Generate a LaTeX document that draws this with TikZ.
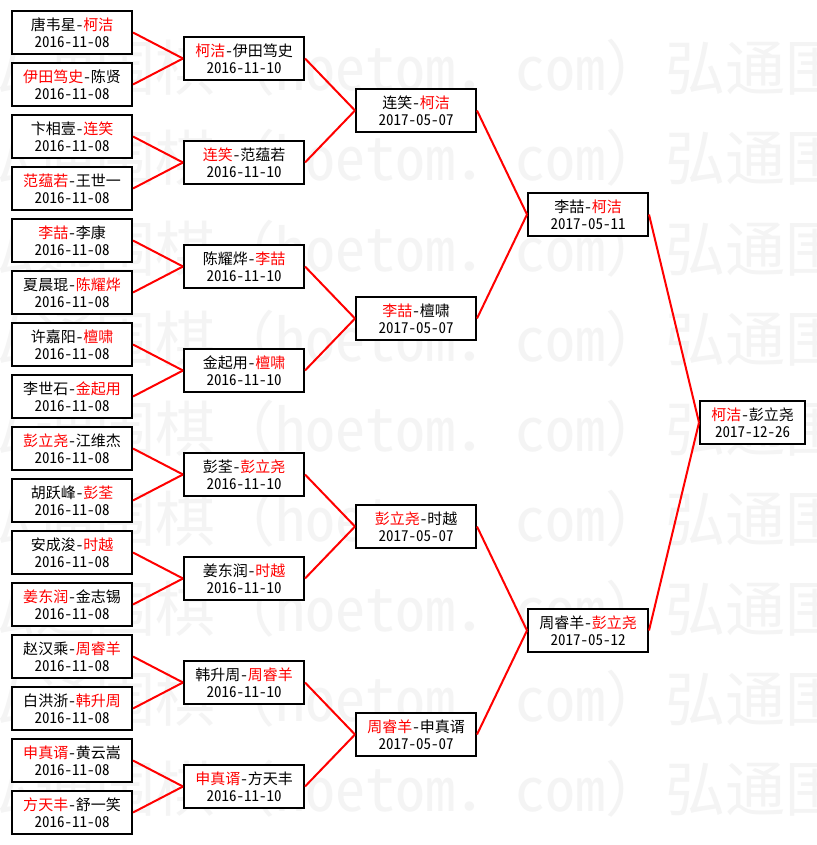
\documentclass[tikz,border=0pt]{standalone}
\usepackage{fontspec}
\setmainfont{Noto Sans CJK SC}[RawFeature={+hwid}]
\newfontfamily\wmfull{Noto Sans CJK SC}
\usetikzlibrary{positioning}
\definecolor{lred}{RGB}{255,0,0}
\definecolor{wmgray}{RGB}{244,244,244}
\newcommand\redname[1]{\textcolor{lred}{#1}}
\newcommand\wmunit{{\wmfull 弘通围棋（}hoetom{\wmfull ．}com{\wmfull ）}}
\newcommand\wmtext{\wmunit\wmunit}
\tikzset{
  mbox/.style={draw=black, line width=2pt, fill=white, minimum width=120pt,
    minimum height=43pt, inner sep=0pt, align=center,
    font=\fontsize{15pt}{17pt}\selectfont},
  finalbox/.style={mbox, minimum width=105pt},
  link/.style={draw=lred, line width=2pt},
  wmark/.style={anchor=base west, inner sep=0pt, text=wmgray,
    font=\fontsize{60pt}{60pt}\selectfont}
}
\begin{document}
\begin{tikzpicture}[x=1pt,y=-1pt]
\useasboundingbox (0,0) rectangle (816,845);
\fill[white] (0,0) rectangle (816,845);
\begin{scope}
\clip (0,0) rectangle (816,845);
\foreach \k in {0,...,8}{
  \node[wmark] (wm\k) at (-25,{91+90*\k}) {\wmtext};
}
\end{scope}
% round 1
\node[mbox] (a1)  at (72,32.5)  {唐韦星-\redname{柯洁}\\2016-11-08};
\node[mbox] (a2)  at (72,84.5)  {\redname{伊田笃史}-陈贤\\2016-11-08};
\node[mbox] (a3)  at (72,136.5) {卞相壹-\redname{连笑}\\2016-11-08};
\node[mbox] (a4)  at (72,188.5) {\redname{范蕴若}-王世一\\2016-11-08};
\node[mbox] (a5)  at (72,240.5) {\redname{李喆}-李康\\2016-11-08};
\node[mbox] (a6)  at (72,292.5) {夏晨琨-\redname{陈耀烨}\\2016-11-08};
\node[mbox] (a7)  at (72,344.5) {许嘉阳-\redname{檀啸}\\2016-11-08};
\node[mbox] (a8)  at (72,396.5) {李世石-\redname{金起用}\\2016-11-08};
\node[mbox] (a9)  at (72,448.5) {\redname{彭立尧}-江维杰\\2016-11-08};
\node[mbox] (a10) at (72,500.5) {胡跃峰-\redname{彭荃}\\2016-11-08};
\node[mbox] (a11) at (72,552.5) {安成浚-\redname{时越}\\2016-11-08};
\node[mbox] (a12) at (72,604.5) {\redname{姜东润}-金志锡\\2016-11-08};
\node[mbox] (a13) at (72,656.5) {赵汉乘-\redname{周睿羊}\\2016-11-08};
\node[mbox] (a14) at (72,708.5) {白洪浙-\redname{韩升周}\\2016-11-08};
\node[mbox] (a15) at (72,760.5) {\redname{申真谞}-黄云嵩\\2016-11-08};
\node[mbox] (a16) at (72,812.5) {\redname{方天丰}-舒一笑\\2016-11-08};
% round 2
\node[mbox] (b1) at (244,58.5)  {\redname{柯洁}-伊田笃史\\2016-11-10};
\node[mbox] (b2) at (244,162.5) {\redname{连笑}-范蕴若\\2016-11-10};
\node[mbox] (b3) at (244,266.5) {陈耀烨-\redname{李喆}\\2016-11-10};
\node[mbox] (b4) at (244,370.5) {金起用-\redname{檀啸}\\2016-11-10};
\node[mbox] (b5) at (244,474.5) {彭荃-\redname{彭立尧}\\2016-11-10};
\node[mbox] (b6) at (244,578.5) {姜东润-\redname{时越}\\2016-11-10};
\node[mbox] (b7) at (244,682.5) {韩升周-\redname{周睿羊}\\2016-11-10};
\node[mbox] (b8) at (244,786.5) {\redname{申真谞}-方天丰\\2016-11-10};
% round 3
\node[mbox] (c1) at (416,110.5) {连笑-\redname{柯洁}\\2017-05-07};
\node[mbox] (c2) at (416,318.5) {\redname{李喆}-檀啸\\2017-05-07};
\node[mbox] (c3) at (416,526.5) {\redname{彭立尧}-时越\\2017-05-07};
\node[mbox] (c4) at (416,734.5) {\redname{周睿羊}-申真谞\\2017-05-07};
% round 4
\node[mbox] (d1) at (588,214.5) {李喆-\redname{柯洁}\\2017-05-11};
\node[mbox] (d2) at (588,630.5) {周睿羊-\redname{彭立尧}\\2017-05-12};
% final
\node[finalbox] (f) at (752.5,422.5) {\redname{柯洁}-彭立尧\\2017-12-26};
% links
\foreach \p/\c in {b1/a1,b1/a2,b2/a3,b2/a4,b3/a5,b3/a6,b4/a7,b4/a8,
                   b5/a9,b5/a10,b6/a11,b6/a12,b7/a13,b7/a14,b8/a15,b8/a16,
                   c1/b1,c1/b2,c2/b3,c2/b4,c3/b5,c3/b6,c4/b7,c4/b8,
                   d1/c1,d1/c2,d2/c3,d2/c4,f/d1,f/d2}{
  \draw[link] (\c.east) -- (\p.west);
}
\end{tikzpicture}
\end{document}
